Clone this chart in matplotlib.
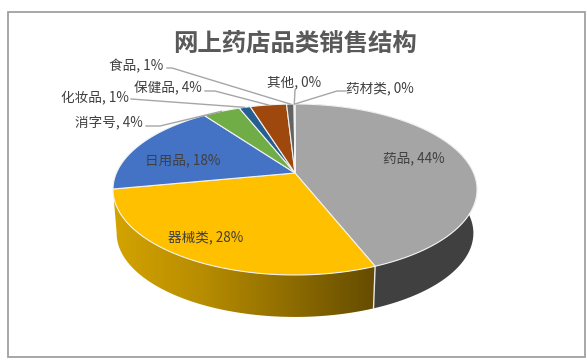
import numpy as np
import matplotlib
matplotlib.use("Agg")
import matplotlib.pyplot as plt
from matplotlib.colors import LinearSegmentedColormap
from matplotlib.patches import Polygon, Rectangle

plt.rcParams['font.family'] = ['Noto Sans CJK SC', 'DejaVu Sans']

title = "网上药店品类销售结构"
categories = ["药品", "器械类", "日用品", "消字号", "化妆品", "保健品", "食品", "其他", "药材类"]
shares = [44.0, 28.0, 18.0, 4.0, 1.2, 3.9, 0.8, 0.05, 0.05]
percent_labels = ["44%", "28%", "18%", "4%", "1%", "4%", "1%", "0%", "0%"]

colors = ["#A5A5A5", "#FFC000", "#4472C4", "#70AD47", "#255E91", "#9E480E", "#636363", "#997300", "#264478"]

# label centres in pixels
label_xy = [(414, 158), (206, 237), (183, 160), (109, 123), (95, 97),
            (168, 88), (136, 66), (294, 82), (380, 88)]
# leader: start of line, elbow (None for labels sitting on the slice)
leaders = [None, None, None,
           ((146, 126), (160, 126)), ((131, 99), (131, 99)), ((205, 91), (215, 91)),
           ((167, 68), (172, 68)), ((295, 90), (295, 90)), ((346, 91), (337, 91))]

fig = plt.figure(figsize=(5.87, 3.62), dpi=100)
ax = fig.add_axes([0, 0, 1, 1])
ax.axis("off")

# perspective of the tilted disc
CX, CY = 295, 173
A, B, K = 178.6, 82.3, 0.193
DEPTH, SHRINK = 44, 0.98


def project(frac, bottom=False):
    t = 2 * np.pi * np.asarray(frac)
    u, v = np.sin(t), np.cos(t)
    s = SHRINK if bottom else 1.0
    x = CX + s * A * u / (1 + K * v)
    y = CY - s * B * v / (1 + K * v) + (DEPTH if bottom else 0)
    return np.column_stack([x, y])


edges = np.cumsum([0] + shares) / sum(shares)

# side walls, only the two front slices show
side_cmap = LinearSegmentedColormap.from_list("side", ["#D3A300", "#B88D00", "#8F6D00", "#654C00"])
for i in [0, 1]:
    fr = np.linspace(edges[i], edges[i + 1], 120)
    pts = np.vstack([project(fr), project(fr[::-1], bottom=True)])
    if i == 0:
        ax.add_patch(Polygon(pts, closed=True, fc="#404040", ec="none", zorder=2))
    else:
        poly = Polygon(pts, closed=True, fc="none", ec="none", zorder=2)
        ax.add_patch(poly)
        im = ax.imshow(np.linspace(0, 1, 256).reshape(1, -1), cmap=side_cmap, aspect="auto",
                       extent=(114, 375, 320, 180), zorder=2)
        im.set_clip_path(poly)

seam = np.vstack([project(edges[1]), project(edges[1], bottom=True)])
ax.plot(seam[:, 0], seam[:, 1], color="#E8E8E8", lw=1, zorder=3)

# top faces
for i in range(len(shares)):
    fr = np.linspace(edges[i], edges[i + 1], 100)
    pts = np.vstack([[CX, CY], project(fr)])
    ax.add_patch(Polygon(pts, closed=True, fc=colors[i], ec="#F2F2F2", lw=0.8, zorder=4))

# labels
for i in range(len(categories)):
    ax.text(label_xy[i][0], label_xy[i][1], categories[i] + ", " + percent_labels[i],
            ha="center", va="center", fontsize=9.8, color="#404040", zorder=6)
    if leaders[i] is not None:
        end = project((edges[i] + edges[i + 1]) / 2)[0]
        line = np.array([leaders[i][0], leaders[i][1], end])
        ax.plot(line[:, 0], line[:, 1], color="#A6A6A6", lw=1, zorder=5)

ax.text(295, 44, title, ha="center", va="center", fontsize=17.6, fontweight="bold", color="#595959")

ax.add_patch(Rectangle((8, 12), 577, 345, fc="none", ec="#A0A0A0", lw=1.3, zorder=1))

ax.set_xlim(0, 587)
ax.set_ylim(362, 0)
fig.savefig("out.png", dpi=100, facecolor="white")
